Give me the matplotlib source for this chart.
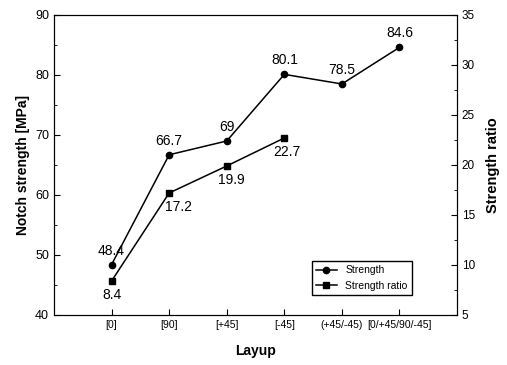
import numpy as np
import matplotlib
matplotlib.use("Agg")
import matplotlib.pyplot as plt
from matplotlib.ticker import MultipleLocator

plt.rcParams['font.family'] = ['Liberation Sans', 'DejaVu Sans']

layups = ['[0]', '[90]', '[+45]', '[-45]', '(+45/-45)', '[0/+45/90/-45]']
strength = [48.4, 66.7, 69, 80.1, 78.5, 84.6]
ratio = [8.4, 17.2, 19.9, 22.7]

x = np.arange(1, len(layups) + 1)

fig = plt.figure(figsize=(5.07, 3.65), dpi=100)
ax = fig.add_axes([0.1065, 0.137, 0.795, 0.822])
ax2 = ax.twinx()

l1, = ax.plot(x, strength, color='black', marker='o', ms=4.5, lw=1.1, label='Strength')
l2, = ax2.plot(x[:len(ratio)], ratio, color='black', marker='s', ms=5, lw=1.1,
               label='Strength ratio')

for xi, v in zip(x, strength):
    ax.annotate(f'{v:g}', (xi, v), xytext=(0, 5), textcoords='offset points',
                ha='center', va='bottom', fontsize=10)
# ratio labels sit below, nudged right (except the first one)
dx = [0, 7, 3, 2]
for xi, v, d in zip(x, ratio, dx):
    ax2.annotate(f'{v:g}', (xi, v), xytext=(d, -5), textcoords='offset points',
                 ha='center', va='top', fontsize=10)

ax.set_xlim(0, 7)
ax.set_ylim(40, 90)
ax2.set_ylim(5, 35)
ax.set_xticks(x)
ax.set_xticklabels(layups, fontsize=7.5)
ax.yaxis.set_major_locator(MultipleLocator(10))
ax.yaxis.set_minor_locator(MultipleLocator(5))
ax2.yaxis.set_major_locator(MultipleLocator(5))
ax2.yaxis.set_minor_locator(MultipleLocator(2.5))

for a in (ax, ax2):
    a.tick_params(direction='in', which='both')
    a.tick_params(which='major', length=4)
    a.tick_params(which='minor', length=2)
ax.tick_params(axis='y', labelsize=9)
ax2.tick_params(axis='y', labelsize=8.5)

ax.set_xlabel('Layup', fontsize=10, fontweight='bold', labelpad=10)
ax.set_ylabel('Notch strength [MPa]', fontsize=10, fontweight='bold')
ax2.set_ylabel('Strength ratio', fontsize=10.5, fontweight='bold', labelpad=8)

ax.legend([l1, l2], ['Strength', 'Strength ratio'], loc='lower right',
          bbox_to_anchor=(0.9, 0.05), fontsize=7.5, frameon=True, fancybox=False,
          edgecolor='black', framealpha=1)

fig.savefig('out.png', dpi=100)
